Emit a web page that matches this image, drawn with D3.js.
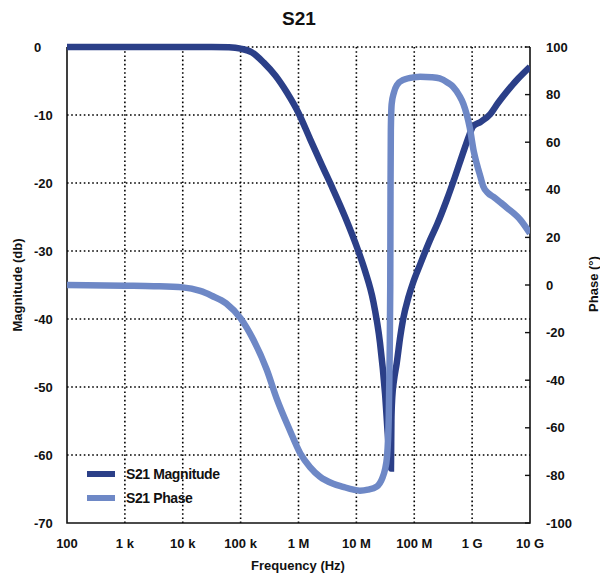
<!DOCTYPE html>
<html><head><meta charset="utf-8">
<script src="https://cdn.jsdelivr.net/npm/d3@7"></script>
<style>
body{margin:0;background:#fff;}
text{font-family:"Liberation Sans",Arial,sans-serif;}
</style></head>
<body><svg id="c" width="600" height="581"></svg>
<script>
// ---- data ----
const magFreq = [1e2,1e3,1e4,3.16e4,6.31e4,1e5,1.58e5,2.51e5,3.98e5,6.31e5,1e6,1.58e6,2.51e6,3.98e6,6.31e6,1.08e7,1.41e7,1.96e7,2.56e7,3.13e7,3.56e7,3.89e7,3.96e7,3.98e7,4.03e7,4.17e7,4.47e7,4.98e7,5.75e7,6.40e7,7.94e7,9.5e7,1.26e8,1.87e8,2.51e8,3.64e8,5.01e8,6.95e8,8.91e8,1.035e9,1.41e9,2.04e9,2.82e9,3.95e9,6.31e9,1e10];
const magDb   = [0,0,0,0,-0.05,-0.25,-0.8,-2.3,-4.2,-6.7,-9.7,-13.5,-17.3,-21.0,-24.9,-30,-32.9,-37.4,-43.5,-51,-58,-61.5,-62,-60,-55,-51.5,-49,-46.5,-42.5,-40.1,-36.8,-34.7,-32,-28.4,-26,-22.5,-19.2,-15.6,-13,-11.7,-11,-9.9,-8.2,-6.6,-4.6,-2.9];
const phFreq = [1e2,1e3,3.16e3,1e4,2e4,3.16e4,5.62e4,1e5,1.66e5,2.82e5,4.17e5,7.08e5,1.07e6,1.58e6,2.34e6,3.98e6,5.89e6,8.91e6,1.15e7,1.58e7,2.24e7,2.82e7,3.09e7,3.39e7,3.63e7,3.76e7,3.85e7,3.89e7,3.94e7,4.07e7,4.47e7,5.01e7,6.46e7,1e8,1.26e8,2e8,2.75e8,3.8e8,4.68e8,6.03e8,7.08e8,9.12e8,1.07e9,1.2e9,1.41e9,1.55e9,1.91e9,2.34e9,3.16e9,3.98e9,6.76e9,1e10];
const phDeg  = [0,-0.3,-0.5,-1,-2.5,-4.5,-7.7,-14,-23,-35.5,-47.5,-61,-70.7,-76.5,-80.5,-83.5,-84.8,-86,-86.4,-86,-84.7,-81,-78,-72,-55,-30,0,40,65,76,81,84,86.2,87.3,87.5,87.3,86.8,85,83.3,79.5,76,66,56,51,45,41.5,38.5,37,34.5,32.5,27.5,21.7];
const xTicks = [1e2,1e3,1e4,1e5,1e6,1e7,1e8,1e9,1e10];
const xTickLabels = ["100","1 k","10 k","100 k","1 M","10 M","100 M","1 G","10 G"];
const magTicks = [0,-10,-20,-30,-40,-50,-60,-70];
const phTicks = [100,80,60,40,20,0,-20,-40,-60,-80,-100];
const seriesNames = ["S21 Magnitude","S21 Phase"];

const magColor = "#2b3f88", phColor = "#6e88c6";
const L=67,R=530,T=47,B=523;
const svg = d3.select("#c");
const x = d3.scaleLog().domain([1e2,1e10]).range([L,R]);
const yM = d3.scaleLinear().domain([-70,0]).range([B,T]);
const yP = d3.scaleLinear().domain([-100,100]).range([B,T]);

// grid
const g = svg.append("g");
g.selectAll(".gx").data(xTicks.slice(1,-1)).join("line")
 .attr("x1",d=>x(d)).attr("x2",d=>x(d)).attr("y1",T).attr("y2",B)
 .attr("stroke","#000").attr("stroke-width",1.6).attr("stroke-dasharray","1.6,2.6");
g.selectAll(".gy").data(magTicks.slice(0,-1)).join("line")
 .attr("x1",L).attr("x2",R).attr("y1",d=>yM(d)).attr("y2",d=>yM(d))
 .attr("stroke","#000").attr("stroke-width",1.6).attr("stroke-dasharray","1.6,2.6");
// frame
svg.append("path").attr("d",`M${L},${T}V${B}H${R}V${T}`).attr("fill","none")
 .attr("stroke","#111").attr("stroke-width",1.6);
// right ticks
svg.selectAll(".rt").data(phTicks).join("line")
 .attr("x1",R-5).attr("x2",R).attr("y1",d=>yP(d)).attr("y2",d=>yP(d))
 .attr("stroke","#111").attr("stroke-width",1.4);

// tick labels
svg.selectAll(".lt").data(magTicks).join("text")
 .attr("x",34).attr("y",d=>yM(d)).attr("dy","0.36em")
 .attr("font-size",13).attr("font-weight","bold").attr("fill","#111").text(d=>d);
svg.selectAll(".rtl").data(phTicks).join("text")
 .attr("x",546).attr("y",d=>yP(d)).attr("dy","0.36em")
 .attr("font-size",13).attr("font-weight","bold").attr("fill","#111").text(d=>d);
svg.selectAll(".bt").data(xTicks).join("text")
 .attr("x",d=>x(d)).attr("y",548).attr("text-anchor","middle")
 .attr("font-size",13).attr("font-weight","bold").attr("fill","#111").text((d,i)=>xTickLabels[i]);

// axis titles
svg.append("text").attr("x",298).attr("y",570).attr("text-anchor","middle")
 .attr("font-size",13).attr("font-weight","bold").attr("fill","#111").text("Frequency (Hz)");
svg.append("text").attr("transform","translate(22,285) rotate(-90)").attr("text-anchor","middle")
 .attr("font-size",13).attr("font-weight","bold").attr("fill","#111").text("Magnitude (db)");
svg.append("text").attr("transform","translate(598,284) rotate(-90)").attr("text-anchor","middle")
 .attr("font-size",13).attr("font-weight","bold").attr("fill","#111").text("Phase (°)");
svg.append("text").attr("x",299).attr("y",25).attr("text-anchor","middle")
 .attr("font-family","Inter, 'Noto Sans', sans-serif")
 .attr("font-size",19).attr("font-weight","bold").attr("fill","#111").text("S21");

// lines
svg.append("clipPath").attr("id","pc").append("rect")
 .attr("x",L).attr("y",T-4).attr("width",R-L).attr("height",B-T+4);
const magLine = d3.line().x((d,i)=>x(magFreq[i])).y(d=>yM(d)).curve(d3.curveMonotoneX);
const phLine = d3.line().x((d,i)=>x(phFreq[i])).y(d=>yP(d)).curve(d3.curveMonotoneX);
svg.append("path").attr("d",magLine(magDb)).attr("fill","none").attr("stroke",magColor)
 .attr("stroke-width",6.5).attr("clip-path","url(#pc)");
svg.append("path").attr("d",phLine(phDeg)).attr("fill","none").attr("stroke",phColor)
 .attr("stroke-width",6.5).attr("clip-path","url(#pc)");

// legend
const leg = svg.append("g");
[magColor,phColor].forEach((c,i)=>{
  const yy = 474 + i*24;
  leg.append("line").attr("x1",87).attr("x2",115).attr("y1",yy).attr("y2",yy)
   .attr("stroke",c).attr("stroke-width",6);
  leg.append("text").attr("x",126).attr("y",yy).attr("dy","0.36em")
   .attr("font-family","Inter, 'Noto Sans', sans-serif").attr("letter-spacing","-0.4")
   .attr("font-size",14).attr("font-weight",600).attr("fill","#111").text(seriesNames[i]);
});
</script></body></html>
